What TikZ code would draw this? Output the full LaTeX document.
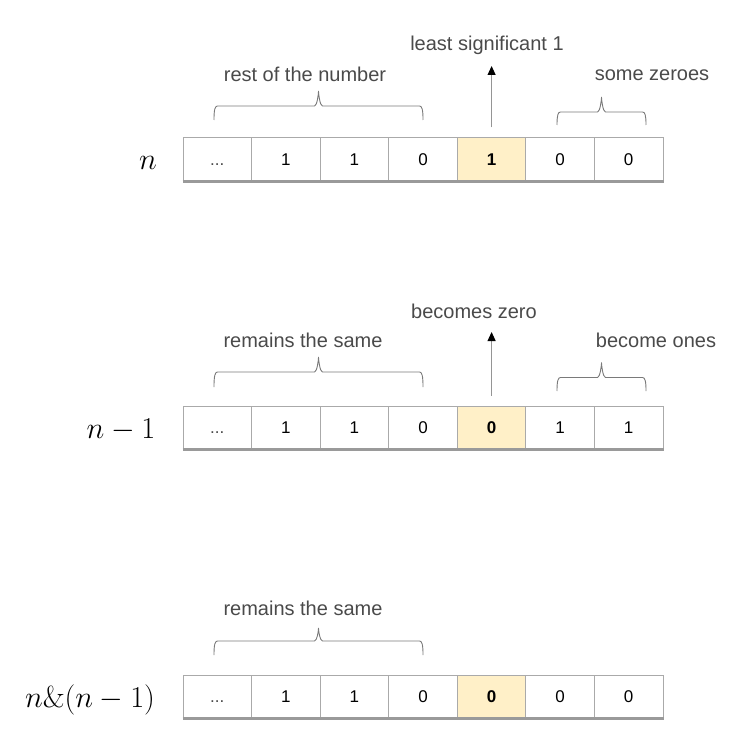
\documentclass[tikz,border=0pt]{standalone}
\usepackage[no-math]{fontspec}
\newfontfamily\labfont{Liberation Sans}
\usetikzlibrary{arrows.meta,calc}
\definecolor{cellline}{HTML}{AAAAAA}
\definecolor{cellbottom}{HTML}{9A9A9A}
\definecolor{hlfill}{HTML}{FFF0C8}
\definecolor{txt}{HTML}{4A4A4A}
\definecolor{brc}{HTML}{7A7A7A}
% brace between two named coordinates: #1 left end, #2 right end, #3 rise to straight part, #4 rise of tip
\newcommand\hbrace[4]{%
  \coordinate (#1m) at ($(#1)!0.5!(#2)$);
  \draw[bracestyle] (#1) .. controls +(0,-0.75*#3) and +(-2.5,0) .. ($(#1)+(3.5,-#3)$)
    -- ($(#1m)+(-4,-#3)$) .. controls +(2.5,0) and +(0,3) .. ($(#1m)+(0,-#3-#4)$)
    .. controls +(0,3) and +(-2.5,0) .. ($(#1m)+(4,-#3)$)
    -- ($(#2)+(-3.5,-#3)$) .. controls +(2.5,0) and +(0,-0.75*#3) .. (#2);}
\newcommand\bigmath[1]{\scalebox{1.22}{\fontsize{24.88}{30}\selectfont$#1$}}
\begin{document}
\begin{tikzpicture}[x=1pt,y=-1pt,
  cell/.style={draw=cellline,line width=1pt,minimum width=68.57pt,minimum height=43pt,inner sep=0pt,
    text height=12.2pt,text depth=0pt,
    font=\labfont\fontsize{17}{20}\selectfont,text=black},
  hlcell/.style={cell,fill=hlfill},
  dotcell/.style={cell,text=txt},
  bottomline/.style={draw=cellbottom,line width=2.5pt},
  lab/.style={font=\labfont\fontsize{20}{24}\selectfont,text=txt,inner sep=0pt},
  mathlab/.style={anchor=base,inner sep=0pt},
  bracestyle/.style={draw=brc,line width=0.9pt},
  uparrow/.style={draw=brc!80,line width=1pt,-{Triangle[width=8pt,length=9pt,fill=black,color=black]}}
]
\useasboundingbox (0,0) rectangle (736,738);

% ---------- row 1 : n ----------
\node[dotcell] (a1) at (217.3,159.5) {...};
\foreach \i/\t in {2/1,3/1,4/0,6/0,7/0}
  \node[cell] (a\i) at ({183+68.57*(\i-0.5)},159.5) {\t};
\node[hlcell] (a5) at (491.6,159.5) {\textbf{1}};
\draw[bottomline] (a1.south west) -- (a7.south east);
\node[mathlab] (na) at (148,169) {\bigmath{n}};

\node[lab] (lsb) at (487,45) {least significant 1};
\coordinate (tipa) at (491.6,66);
\draw[uparrow] ([yshift=10pt]a5.north) -- (tipa);

\coordinate (ba1) at (214,120);
\coordinate (ba2) at (423,120);
\hbrace{ba1}{ba2}{14}{15}
\node[lab] (resta) at (305,74) {rest of the number};

\coordinate (bz1) at (557,125);
\coordinate (bz2) at (646,125);
\hbrace{bz1}{bz2}{13}{15}
\node[lab] (zeroes) at (652,75) {some zeroes};

% ---------- row 2 : n-1 ----------
\node[dotcell] (b1) at (217.3,427.5) {...};
\foreach \i/\t in {2/1,3/1,4/0,6/1,7/1}
  \node[cell] (b\i) at ({183+68.57*(\i-0.5)},427.5) {\t};
\node[hlcell] (b5) at (491.6,427.5) {\textbf{0}};
\draw[bottomline] (b1.south west) -- (b7.south east);
\node[mathlab] (nb) at (121,438) {\bigmath{n-1}};

\node[lab] (bz) at (474,311) {becomes zero};
\coordinate (tipb) at (491.6,332);
\draw[uparrow] ([yshift=10pt]b5.north) -- (tipb);

\coordinate (bb1) at (214,387);
\coordinate (bb2) at (423,387);
\hbrace{bb1}{bb2}{15}{15}
\node[lab] (sameb) at (303,340) {remains the same};

\coordinate (bo1) at (557,391);
\coordinate (bo2) at (646,391);
\hbrace{bo1}{bo2}{13.5}{15}
\node[lab] (ones) at (656,340) {become ones};

% ---------- row 3 : n&(n-1) ----------
\node[dotcell] (c1) at (217.3,696.5) {...};
\foreach \i/\t in {2/1,3/1,4/0,6/0,7/0}
  \node[cell] (c\i) at ({183+68.57*(\i-0.5)},696.5) {\t};
\node[hlcell] (c5) at (491.6,696.5) {\textbf{0}};
\draw[bottomline] (c1.south west) -- (c7.south east);
\node[mathlab] (nc) at (90,707) {\bigmath{n\&(n-1)}};

\coordinate (bc1) at (214,655);
\coordinate (bc2) at (423,655);
\hbrace{bc1}{bc2}{14}{13}
\node[lab] (samec) at (303,608) {remains the same};
\end{tikzpicture}
\end{document}
